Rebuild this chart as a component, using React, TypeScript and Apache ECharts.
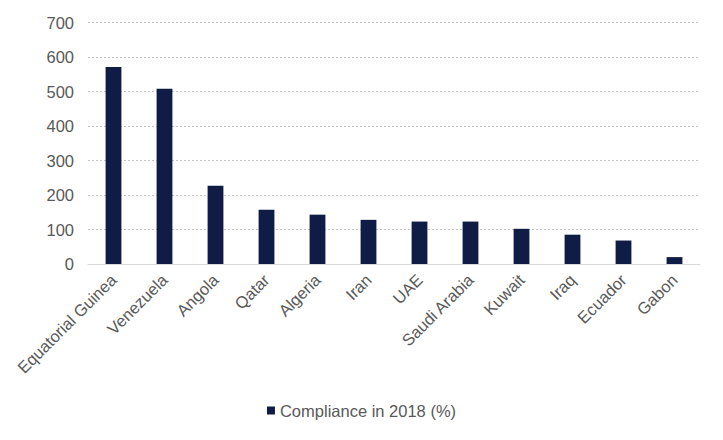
import { useEffect, useRef } from "react";
import * as echarts from "echarts";

const countries = [
  "Equatorial Guinea",
  "Venezuela",
  "Angola",
  "Qatar",
  "Algeria",
  "Iran",
  "UAE",
  "Saudi Arabia",
  "Kuwait",
  "Iraq",
  "Ecuador",
  "Gabon",
];

const compliance2018 = [571, 508, 227, 157, 143, 128, 123, 123, 102, 85, 68, 20];

const seriesName = "Compliance in 2018 (%)";

const FONT = "'Liberation Sans', Arial, sans-serif";
const TEXT_COLOR = "#595959";
const BAR_COLOR = "#0f1c45";

export default function App() {
  const chartRef = useRef<HTMLDivElement>(null);

  useEffect(() => {
    if (!chartRef.current) return;
    const chart = echarts.init(chartRef.current, undefined, { renderer: "svg" });

    chart.setOption({
      animation: false,
      textStyle: { fontFamily: FONT },
      grid: { left: 88, right: 23, top: 22.5, bottom: 176, containLabel: false },
      legend: {
        bottom: 16,
        left: "center",
        itemWidth: 8,
        itemHeight: 8,
        itemGap: 6,
        icon: "rect",
        textStyle: { color: TEXT_COLOR, fontSize: 16.5, fontFamily: FONT },
        data: [seriesName],
      },
      xAxis: {
        type: "category",
        data: countries,
        axisLine: { show: true, lineStyle: { color: "#d9d9d9", width: 1 } },
        axisTick: { show: false },
        axisLabel: {
          rotate: 45,
          interval: 0,
          margin: 13,
          color: TEXT_COLOR,
          fontSize: 16.5,
          fontFamily: FONT,
        },
      },
      yAxis: {
        type: "value",
        min: 0,
        max: 700,
        interval: 100,
        axisLine: { show: false },
        axisTick: { show: false },
        axisLabel: { color: TEXT_COLOR, fontSize: 16.5, fontFamily: FONT, margin: 14 },
        splitLine: { lineStyle: { color: "#c4c4c4", type: [2, 2], width: 1 } },
      },
      series: [
        {
          name: seriesName,
          type: "bar",
          data: compliance2018,
          barWidth: "31%",
          itemStyle: { color: BAR_COLOR },
        },
      ],
    });

    return () => {
      chart.dispose();
    };
  }, []);

  return (
    <div
      ref={chartRef}
      style={{ position: "fixed", left: 0, top: 0, width: 723, height: 440, background: "#fff" }}
    />
  );
}
